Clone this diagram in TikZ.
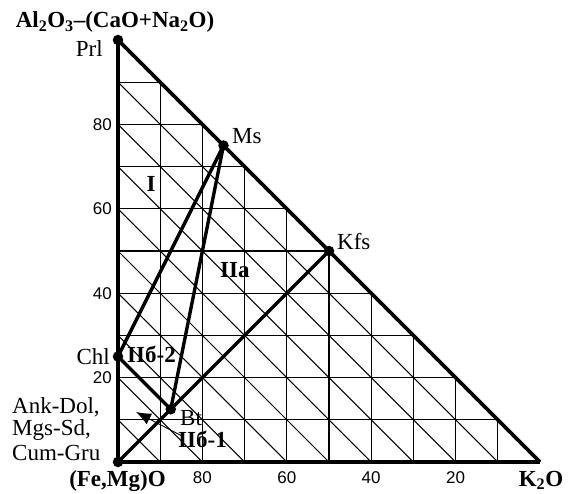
\documentclass[tikz,border=0pt]{standalone}
\usepackage{fontspec}
\setmainfont{Liberation Serif}
\newfontfamily\ticksf{Liberation Sans}
\usetikzlibrary{arrows.meta}
\begin{document}
\begin{tikzpicture}[x=4.22pt,y=4.22pt,
  gridline/.style={line width=1.15pt},
  diagline/.style={line width=1pt},
  frame/.style={line width=3.6pt},
  phase/.style={line width=3.4pt},
  dot/.style={circle, fill=black, inner sep=0pt, minimum size=10.5pt},
  lbl/.style={font=\fontsize{23}{25}\selectfont, inner sep=0pt},
  blbl/.style={font=\fontsize{23}{25}\selectfont\bfseries, inner sep=0pt},
  tick/.style={font=\fontsize{17}{19}\selectfont\ticksf, inner sep=0pt}]
\useasboundingbox (-118pt,-31pt) rectangle (452pt,462pt);
% grid
\foreach \k in {10,20,...,90} {
  \draw[gridline] (\k,0) -- (\k,{100-\k});
  \draw[gridline] (0,\k) -- ({100-\k},\k);
  \draw[diagline] (0,\k) -- (\k,0);
}
% points
\coordinate (prl) at (0,100);
\coordinate (fm) at (0,0);
\coordinate (k) at (100,0);
\coordinate (ms) at (25,75);
\coordinate (kfs) at (50,50);
\coordinate (chl) at (0,25);
\coordinate (bt) at (12.5,12.5);
% frame
\draw[frame] (prl) -- (fm) -- (k);
\draw[frame] (prl) -- (k);
% phase lines
\draw[phase] (chl) -- (ms);
\draw[phase] (bt) -- (ms);
\draw[phase] (chl) -- (bt);
\draw[phase] (fm) -- (kfs);
% dots
\foreach \p in {prl,fm,ms,kfs,chl,bt} \node[dot] at (\p) {};
% arrow
\coordinate (arrstart) at (64pt,26pt);
\coordinate (arrtip) at (18pt,50pt);
\draw[line width=0.9pt, -{Latex[length=15pt,width=12pt]}] (arrstart) -- (arrtip);
% tick labels
\foreach \v in {20,40,60,80} {
  \node[tick, anchor=east] at (-6pt,{\v*4.22pt}) {\v};
  \node[tick] at ({(100-\v)*4.22pt},-16pt) {\v};
}
% labels
\node[blbl, anchor=base] (title) at (-3pt,434pt) {Al\textsubscript{2}O\textsubscript{3}–(CaO+Na\textsubscript{2}O)};
\node[lbl, anchor=base east] (lprl) at (-15pt,405pt) {Prl};
\node[lbl, anchor=base east] (lchl) at (-8pt,98pt) {Chl};
\node[lbl, anchor=base west] (lms) at (114pt,318pt) {Ms};
\node[lbl, anchor=base west] (lkfs) at (219pt,212pt) {Kfs};
\node[lbl, anchor=base west] (lbt) at (62pt,37pt) {Bt};
\node[blbl, anchor=base west] (l2) at (9pt,99.5pt) {IIб-2};
\node[blbl, anchor=base west] (l1) at (60pt,15pt) {IIб-1};
\node[blbl, anchor=base] (lI) at (33pt,270.5pt) {I};
\node[blbl, anchor=base west] (lIIa) at (102pt,184pt) {IIa};
\node[lbl, anchor=base west] (ank) at (-106pt,49pt) {Ank-Dol,};
\node[lbl, anchor=base west] (mgs) at (-106pt,27pt) {Mgs-Sd,};
\node[lbl, anchor=base west] (cum) at (-106pt,2pt) {Cum-Gru};
\node[blbl, anchor=base] (lfm) at (-0.5pt,-24pt) {(Fe,Mg)O};
\node[blbl, anchor=base] (lk) at (423pt,-24pt) {K\textsubscript{2}O};
\end{tikzpicture}
\end{document}
